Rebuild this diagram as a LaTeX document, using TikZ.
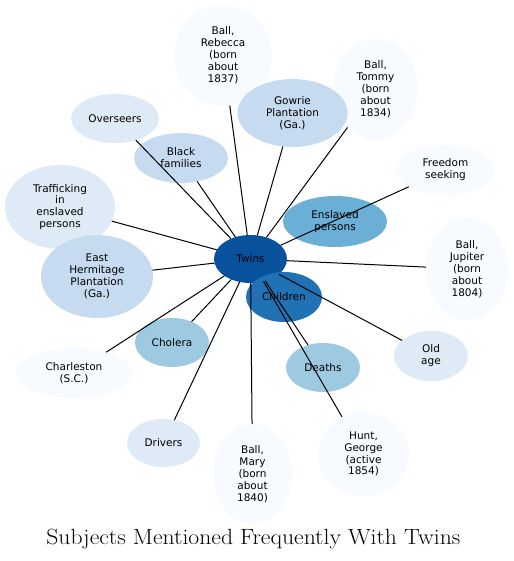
\documentclass[tikz,border=0pt]{standalone}
\usepackage{fontspec}
\newfontfamily\labelfont{DejaVu Sans}
\usetikzlibrary{shapes.geometric}

% Blues shades, lightest to darkest
\definecolor{blueA}{HTML}{F7FBFF}
\definecolor{blueB}{HTML}{DEEBF7}
\definecolor{blueC}{HTML}{C6DBEF}
\definecolor{blueD}{HTML}{9ECAE1}
\definecolor{blueE}{HTML}{6BAED6}
\definecolor{blueF}{HTML}{2171B5}
\definecolor{blueG}{HTML}{08519C}

\begin{document}
\begin{tikzpicture}[x=1pt, y=-1pt,
  subject/.style={ellipse, draw=none, inner sep=0pt, outer sep=0pt, align=center,
    font=\labelfont\fontsize{10.5}{11.9}\selectfont},
  link/.style={black, line width=1pt}]
  \useasboundingbox (0,0) rectangle (513,561);

  % Rarely mentioned subjects (palest)
  \node[subject, fill=blueA, minimum width=98, minimum height=101] (rebecca) at (223,55.5) {Ball,\\Rebecca\\(born\\about\\1837)};
  \node[subject, fill=blueA, minimum width=85, minimum height=101] (tommy) at (375.5,89.5) {Ball,\\Tommy\\(born\\about\\1834)};
  \node[subject, fill=blueA, minimum width=99, minimum height=50] (freedom) at (445.5,170) {Freedom\\seeking};
  \node[subject, fill=blueA, minimum width=82, minimum height=102] (jupiter) at (467,269) {Ball,\\Jupiter\\(born\\about\\1804)};
  \node[subject, fill=blueA, minimum width=91, minimum height=84] (hunt) at (363.5,454) {Hunt,\\George\\(active\\1854)};
  \node[subject, fill=blueA, minimum width=79, minimum height=100] (mary) at (252.5,474) {Ball,\\Mary\\(born\\about\\1840)};
  \node[subject, fill=blueA, minimum width=116, minimum height=50] (charleston) at (74,373) {Charleston\\(S.C.)};

  % Somewhat more frequent
  \node[subject, fill=blueB, minimum width=110, minimum height=84] (trafficking) at (60,207) {Trafficking\\in\\enslaved\\persons};
  \node[subject, fill=blueB, minimum width=88, minimum height=49] (overseers) at (115,118.5) {Overseers};
  \node[subject, fill=blueB, minimum width=73, minimum height=48] (drivers) at (163.5,443) {Drivers};
  \node[subject, fill=blueB, minimum width=74, minimum height=50] (oldage) at (431,356) {Old\\age};

  \node[subject, fill=blueC, minimum width=94, minimum height=50] (blackfam) at (181,158) {Black\\families};
  \node[subject, fill=blueC, minimum width=110, minimum height=68] (gowrie) at (292.5,113) {Gowrie\\Plantation\\(Ga.)};
  \node[subject, fill=blueC, minimum width=112, minimum height=83] (hermitage) at (97,276.5) {East\\Hermitage\\Plantation\\(Ga.)};

  \node[subject, fill=blueD, minimum width=74, minimum height=49] (cholera) at (172,342.5) {Cholera};
  \node[subject, fill=blueD, minimum width=74, minimum height=49] (deaths) at (323,367.5) {Deaths};
  \node[subject, fill=blueE, minimum width=104, minimum height=51] (enslaved) at (335,221.5) {Enslaved\\persons};

  % Centre
  \node[subject, fill=blueG, minimum width=73, minimum height=48] (twins) at (250.5,259) {Twins};
  \node[subject, fill=blueF, minimum width=76, minimum height=50] (children) at (284,297) {Children};

  % Links from the centre, on top of the ellipses
  \foreach \n in {rebecca, tommy, freedom, jupiter, hunt, mary, charleston,
                  trafficking, overseers, drivers, oldage, blackfam, gowrie,
                  hermitage, cholera, deaths}
    \draw[link] (twins) -- (\n);

  \node[font=\fontsize{22}{24}\selectfont, anchor=base] (title) at (253.4,544.5) {\scalebox{1.075}[1]{Subjects Mentioned Frequently With Twins}};
\end{tikzpicture}
\end{document}
